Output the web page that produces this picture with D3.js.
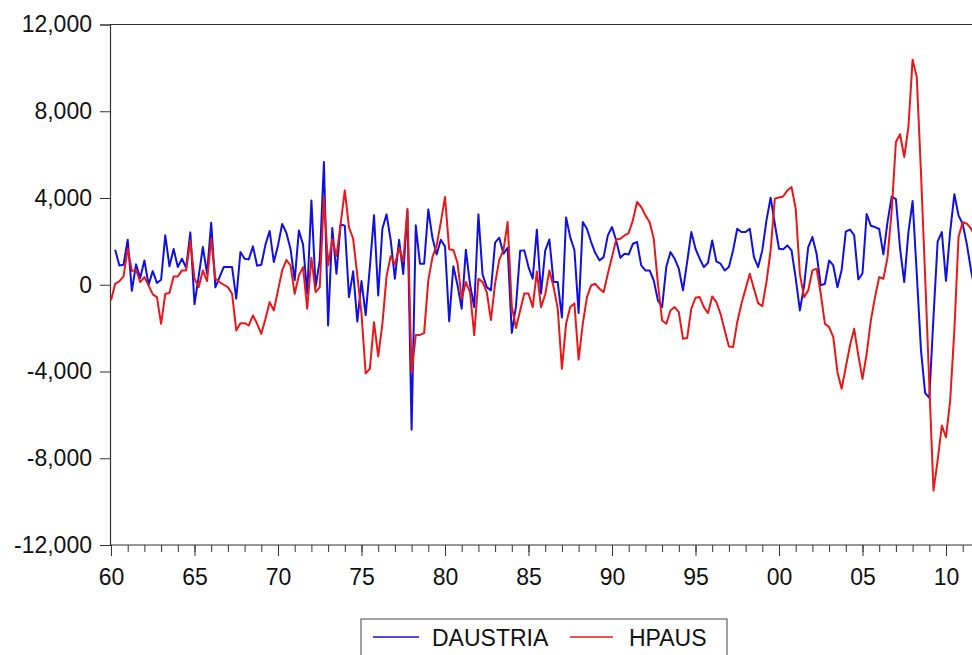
<!DOCTYPE html>
<html>
<head>
<meta charset="utf-8">
<script src="https://cdn.jsdelivr.net/npm/d3@7"></script>
<style>
  body { margin: 0; background: #fff; }
  #chart text { font-family: "Liberation Sans", Arial, sans-serif; fill: #111; }
</style>
</head>
<body>
<div id="chart"></div>
<script>
//========================================================================================================================
// data: quarterly, first observation 1960Q1
const startYear = 1960;
const seriesNames = ["DAUSTRIA", "HPAUS"];

// DAUSTRIA (first difference, so no value for 1960Q1)
const daustria = [
  null, 1615, 890, 920, 2080, -280, 940, 310, 1120, 0, 630, 80, 230, 2280, 850, 1650, 815, 1200, 785, 2415,
  -900, 385, 1740, 510, 2860, -120, 355, 815, 815, 815, -645, 1510, 1200, 1170, 1770, 880, 920, 1850, 2480, 1050,
  1815, 2800, 2400, 1650, 215, 2500, 1850, -415, 3890, -110, 1120, 5660, -1880, 2615, 510, 2785, 2720, -570, 620, -1700,
  170, -1400, 815, 3200, -490, 2585, 3245, 2050, 280, 2075, 500, 3400, -6690, 2740, 970, 970, 3475, 2150, 1400, 2075,
  1770, -1680, 855, -30, -1105, 1615, 10, -1030, 3245, 470, -110, -260, 1945, 2170, 1430, 1705, -2220, -1000, 1570, 1585,
  815, 275, 2540, -400, 1570, 2085, 125, 125, -1505, 3105, 2185, 1600, -1300, 2890, 2585, 1970, 1460, 1125, 1275, 2275,
  2660, 2045, 1245, 1430, 1400, 1890, 1970, 890, 660, 660, 200, -725, -1030, 815, 1505, 1200, 740, -260, 1045, 2430,
  1660, 1200, 815, 1015, 2045, 1075, 970, 660, 815, 1585, 2585, 2430, 2430, 2585, 1275, 815, 1585, 2970, 4015, 2800,
  1660, 1640, 1815, 1585, 300, -1185, -60, 1740, 2200, 1430, -30, 45, 1120, 890, -120, 680, 2450, 2545, 2290, 250,
  520, 3260, 2720, 2660, 2570, 1400, 2900, 4070, 3950, 1660, 125, 2430, 3860, 500, -3000, -5000, -5210, -1500, 2000, 2430,
  180, 2450, 4170, 3200, 2800, 1860, 660, -300
];

// HPAUS
const hpaus = [
  -720, 45, 155, 385, 1660, 630, 690, 125, 355, -30, -445, -570, -1800, -415, -385, 385, 385, 660, 660, 2045,
  275, -110, 660, 170, 2120, 275, 125, 0, -110, -415, -2105, -1770, -1770, -1875, -1415, -1800, -2260, -1570, -800, -1185,
  -260, 660, 1140, 890, -415, 430, 815, -1105, 1245, -340, -110, 4045, 890, 2100, 1330, 2800, 4350, 2650, 2120, 430,
  -1340, -4090, -3875, -1725, -3305, -1820, 390, 1330, 930, 1700, 1080, 3505, -4070, -2315, -2315, -2230, 200, 1275, 1815, 2890,
  4045, 1640, 1600, 1000, -650, 125, -340, -2320, 275, 120, -340, -1630, 50, 1160, 1585, 2890, -1000, -1990, -1185, -400,
  -400, -1030, 610, -1030, -450, 660, -90, -1100, -3875, -1800, -1030, -860, -3450, -1800, -570, -30, 45, -185, -340, 510,
  1275, 2090, 2120, 2275, 2385, 2970, 3815, 3585, 3200, 2890, 2120, 45, -1645, -1800, -1185, -1030, -1260, -2490, -2460, -1105,
  -600, -570, -1030, -1305, -540, -800, -1340, -2105, -2845, -2875, -1725, -875, -185, 510, -185, -845, -985, 125, 1585, 3970,
  4020, 4070, 4350, 4505, 3500, 500, -570, -260, 660, 740, -415, -1800, -1955, -2415, -4030, -4800, -3800, -2800, -2030, -3260,
  -4340, -3185, -1645, -570, 355, 275, 1275, 3430, 6580, 6940, 5890, 7275, 10380, 9580, 5200, 400, -4600, -9490, -8100, -6490,
  -7030, -5340, -2105, 2200, 2890, 2815, 2585, 2200
];

// axis ticks
const yTicks = [-12000, -8000, -4000, 0, 4000, 8000, 12000];
const xMajorTicks = [1960, 1965, 1970, 1975, 1980, 1985, 1990, 1995, 2000, 2005, 2010];
const xTickLabels = ["60", "65", "70", "75", "80", "85", "90", "95", "00", "05", "10"];
const xMinorTicks = d3.range(1960, 2013);

//========================================================================================================================
// dimensions
const W = 972, H = 655;
const plot = { left: 110, top: 24.5, right: 1010, bottom: 545 };
const colors = { DAUSTRIA: "#1010e0", HPAUS: "#e81818" };

const svg = d3.select("#chart").append("svg")
  .attr("width", W)
  .attr("height", H);

const xScale = d3.scaleLinear().domain([1960, 2010]).range([111, 946]);
const yScale = d3.scaleLinear().domain([-12000, 12000]).range([plot.bottom, plot.top]);

svg.append("clipPath").attr("id", "plot-clip")
  .append("rect")
  .attr("x", plot.left).attr("y", plot.top - 2)
  .attr("width", plot.right - plot.left).attr("height", plot.bottom - plot.top + 4);

//=========================== FRAME + AXES =============================================================================
// top border line
svg.append("line")
  .attr("x1", plot.left).attr("x2", W)
  .attr("y1", plot.top).attr("y2", plot.top)
  .attr("stroke", "#333").attr("stroke-width", 1.2);

// y axis (plain hyphen for negatives, like the original)
const fmt = d3.format(",");
const yAxis = svg.append("g")
  .attr("transform", `translate(${plot.left},0)`)
  .call(d3.axisLeft(yScale).tickValues(yTicks).tickSize(10).tickPadding(8)
    .tickFormat((d) => fmt(d).replace("\u2212", "-")));
yAxis.select(".domain").attr("stroke", "#333").attr("stroke-width", 1.2);
yAxis.selectAll(".tick line").attr("stroke", "#333");
yAxis.selectAll("text").style("font-size", "23px").attr("fill", "#111");

// x axis: minor yearly ticks, then labelled 5-year ticks
const xMinor = svg.append("g")
  .attr("transform", `translate(0,${plot.bottom})`)
  .call(d3.axisBottom(xScale).tickValues(xMinorTicks).tickSize(7).tickFormat(""));
xMinor.select(".domain").remove();
xMinor.selectAll(".tick line").attr("stroke", "#333");

const xAxis = svg.append("g")
  .attr("transform", `translate(0,${plot.bottom})`)
  .call(d3.axisBottom(xScale).tickValues(xMajorTicks).tickSize(11).tickPadding(13)
    .tickFormat((d, i) => xTickLabels[i]));
xAxis.select(".domain").attr("d", `M${plot.left},0H${W}`).attr("stroke", "#333").attr("stroke-width", 1.2);
xAxis.selectAll(".tick line").attr("stroke", "#333");
xAxis.selectAll("text").style("font-size", "23px").attr("fill", "#111");

//=========================== LINES ====================================================================================
const line = d3.line()
  .defined((d) => d !== null)
  .x((d, i) => xScale(startYear + i / 4))
  .y((d) => yScale(d));

const lines = svg.append("g").attr("clip-path", "url(#plot-clip)");
[daustria, hpaus].forEach((values, k) => {
  lines.append("path")
    .datum(values)
    .attr("fill", "none")
    .attr("stroke", colors[seriesNames[k]])
    .attr("stroke-width", 2)
    .attr("stroke-linejoin", "round")
    .attr("d", line);
});

//================================ LEGEND ==============================================================================
const legend = svg.append("g").attr("transform", "translate(361,619)");
legend.append("rect")
  .attr("width", 366).attr("height", 60)
  .attr("fill", "#fff").attr("stroke", "#666").attr("stroke-width", 1.2);

const legendItems = [
  { name: "DAUSTRIA", x0: 12, x1: 58, tx: 71 },
  { name: "HPAUS", x0: 209, x1: 252, tx: 268 }
];
legendItems.forEach((d) => {
  legend.append("line")
    .attr("x1", d.x0).attr("x2", d.x1)
    .attr("y1", 18).attr("y2", 18)
    .attr("stroke", colors[d.name]).attr("stroke-width", 1.5);
  legend.append("text")
    .attr("x", d.tx).attr("y", 27)
    .style("font-size", "23px")
    .text(d.name);
});
</script>
</body>
</html>
